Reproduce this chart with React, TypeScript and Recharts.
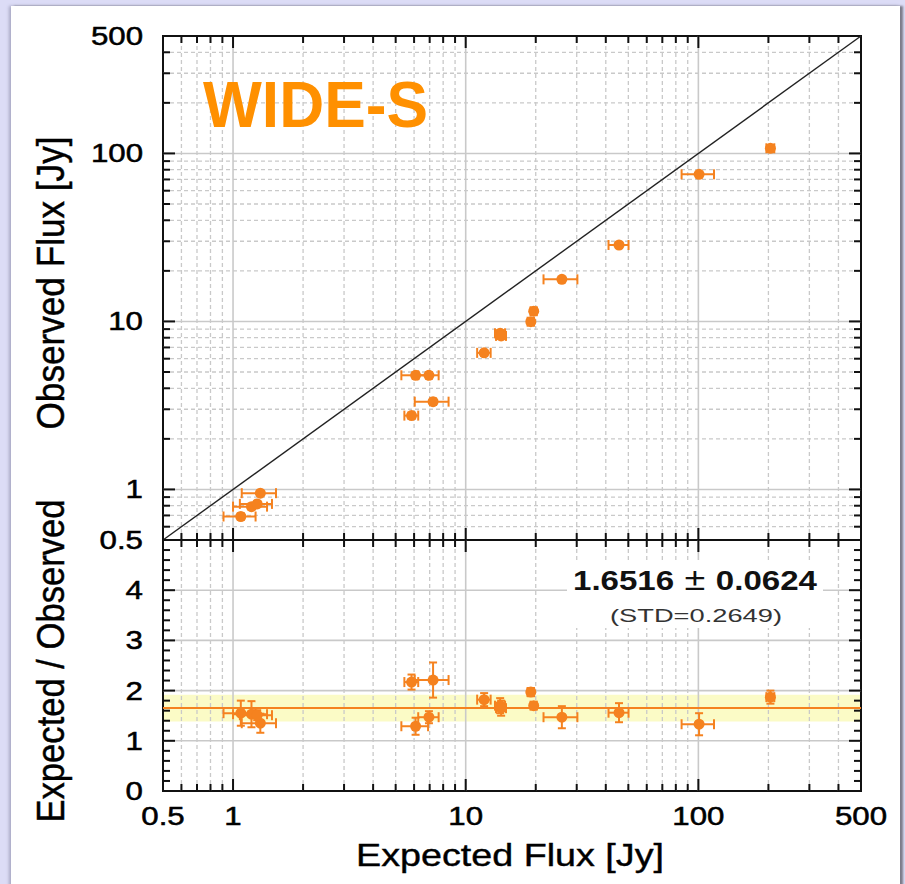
import React from 'react';
import { ScatterChart, Scatter, XAxis, YAxis, ErrorBar, ReferenceLine, ReferenceArea } from 'recharts';

// expected (x) vs observed (y) fluxes
const expected = [100.7, 204, 45.6, 25.9, 19.6, 19.05, 14.06, 14.2, 12.0, 6.09, 6.95, 7.24, 5.85, 1.31, 1.2, 1.27, 1.08];
const expectedErr = [16, 8, 4.5, 4.3, 0.6, 0.6, 0.7, 0.7, 0.8, 0.8, 0.7, 1.2, 0.4, 0.22, 0.2, 0.2, 0.17];
const observed = [75.1, 107.3, 28.5, 17.8, 11.5, 9.96, 8.5, 8.2, 6.5, 4.78, 4.78, 3.33, 2.75, 0.95, 0.79, 0.82, 0.69];
const observedErr = [2.5, 5, 1.0, 0.6, 0.5, 0.4, 0.35, 0.35, 0.25, 0.2, 0.2, 0.15, 0.12, 0.03, 0.03, 0.03, 0.03];
// expected / observed
const ratio = [1.33, 1.87, 1.56, 1.47, 1.7, 1.97, 1.7, 1.65, 1.82, 1.29, 1.47, 2.21, 2.17, 1.35, 1.53, 1.51, 1.55];
const ratioErr = [0.22, 0.13, 0.19, 0.22, 0.06, 0.08, 0.15, 0.15, 0.13, 0.17, 0.12, 0.35, 0.15, 0.19, 0.26, 0.1, 0.25];

const meanRatio = 1.6516;
const meanErr = 0.0624;
const stdRatio = 0.2649;

const logTicks = [0.5, 0.6, 0.7, 0.8, 0.9, 1, 2, 3, 4, 5, 6, 7, 8, 9, 10, 20, 30, 40, 50, 60, 70, 80, 90, 100, 200, 300, 400, 500];
const logMajors = [1, 10, 100];
const logLabels = [0.5, 1, 10, 100, 500];
const ratioTicks = [0, 0.2, 0.4, 0.6, 0.8, 1, 1.2, 1.4, 1.6, 1.8, 2, 2.2, 2.4, 2.6, 2.8, 3, 3.2, 3.4, 3.6, 3.8, 4, 4.2, 4.4, 4.6, 4.8, 5];
const ratioLabels = [0, 1, 2, 3, 4];
const ratioGrid = [1, 2, 3, 4];

const points = expected.map((e, i) => ({
  x: e, y: observed[i], xErr: expectedErr[i], yErr: observedErr[i], r: ratio[i], rErr: ratioErr[i],
}));

const W = 905, H = 884;
const TOP = 36, SPLIT = 540, BOTTOM = 791, LEFT = 163, RIGHT = 861;
const MAJOR = 12, MINOR = 7;
const FONT = '"Liberation Sans", Arial, sans-serif';
const ORANGE = '#f5821f';
const GRID = '#c9c9c9';
const INK = '#111';

const TickText = ({ x, y, anchor, children }: any) => (
  <g transform={`translate(${x},${y}) scale(1.25,1)`}>
    <text textAnchor={anchor} fontSize={25} fontFamily={FONT} fill="#000" stroke="#000" strokeWidth={0.5}>{children}</text>
  </g>
);

const makeXTick = (edgeTop: number, edgeBottom: number, showLabel: boolean) => (props: any) => {
  const { x, payload } = props;
  const v = payload.value;
  const len = logMajors.includes(v) ? MAJOR : MINOR;
  const edge = v === 0.5 || v === 500;
  return (
    <g>
      {!edge && <line x1={x} x2={x} y1={edgeBottom} y2={edgeBottom - len} stroke={INK} strokeWidth={2} />}
      {!edge && <line x1={x} x2={x} y1={edgeTop} y2={edgeTop + len} stroke={INK} strokeWidth={2} />}
      {showLabel && logLabels.includes(v) && <TickText x={x} y={825} anchor="middle">{String(v)}</TickText>}
    </g>
  );
};

const makeYTick = (majors: number[], labels: number[], hideEdges: number[]) => (props: any) => {
  const { y, payload } = props;
  const v = payload.value;
  const len = majors.includes(v) ? MAJOR : MINOR;
  const edge = hideEdges.includes(v);
  return (
    <g>
      {!edge && <line x1={LEFT} x2={LEFT + len} y1={y} y2={y} stroke={INK} strokeWidth={2} />}
      {!edge && <line x1={RIGHT} x2={RIGHT - len} y1={y} y2={y} stroke={INK} strokeWidth={2} />}
      {labels.includes(v) && <TickText x={143} y={y + 9} anchor="end">{String(v)}</TickText>}
    </g>
  );
};

const Dot = (props: any) => <circle cx={props.cx} cy={props.cy} r={5.5} fill={ORANGE} />;

const minorLog = logTicks.filter((v) => !logMajors.includes(v) && v !== 0.5 && v !== 500);

export default function App() {
  return (
    <div style={{ position: 'absolute', left: 0, top: 0, width: W, height: H, background: '#dcdcf6', overflow: 'hidden' }}>
      <div style={{ position: 'absolute', left: 11, top: 6, width: 889, height: 900, background: '#fff', boxShadow: '3px 0 2px #7c7c8a, -2px 0 3px #a9a9c4' }} />

      <div style={{ position: 'absolute', left: 0, top: 0 }}>
        <ScatterChart width={W} height={560} margin={{ top: TOP, right: W - RIGHT, bottom: 560 - SPLIT - 1, left: LEFT - 1 }}>
          <XAxis type="number" dataKey="x" scale="log" domain={[0.5, 500]} allowDataOverflow ticks={logTicks} interval={0}
            height={1} tickSize={0} tickMargin={0} axisLine={false} tickLine={false} tick={makeXTick(TOP, SPLIT, false)} />
          <YAxis type="number" dataKey="y" scale="log" domain={[0.5, 500]} allowDataOverflow ticks={logTicks} interval={0}
            width={1} tickSize={0} tickMargin={0} axisLine={false} tickLine={false} tick={makeYTick(logMajors, logLabels, [500])} />
          {minorLog.map((v) => <ReferenceLine key={`vx${v}`} x={v} stroke={GRID} strokeDasharray="4 3" strokeWidth={1.3} />)}
          {minorLog.map((v) => <ReferenceLine key={`hy${v}`} y={v} stroke={GRID} strokeDasharray="4 3" strokeWidth={1.3} />)}
          {logMajors.map((v) => <ReferenceLine key={`mx${v}`} x={v} stroke={GRID} strokeWidth={1.6} />)}
          {logMajors.map((v) => <ReferenceLine key={`my${v}`} y={v} stroke={GRID} strokeWidth={1.6} />)}
          <ReferenceLine segment={[{ x: 0.5, y: 0.5 }, { x: 500, y: 500 }]} stroke="#222" strokeWidth={1.4} />
          <Scatter data={points} shape={Dot} isAnimationActive={false}>
            <ErrorBar dataKey="xErr" direction="x" width={5} stroke={ORANGE} strokeWidth={2} isAnimationActive={false} />
            <ErrorBar dataKey="yErr" direction="y" width={4} stroke={ORANGE} strokeWidth={2} isAnimationActive={false} />
          </Scatter>
          <ReferenceArea x1={0.5} x2={500} y1={0.5} y2={500} fill="none" stroke={INK} strokeWidth={2} />
        </ScatterChart>
      </div>

      <div style={{ position: 'absolute', left: 0, top: 0 }}>
        <ScatterChart width={W} height={H} margin={{ top: SPLIT, right: W - RIGHT, bottom: H - BOTTOM - 1, left: LEFT - 1 }}>
          <XAxis type="number" dataKey="x" scale="log" domain={[0.5, 500]} allowDataOverflow ticks={logTicks} interval={0}
            height={1} tickSize={0} tickMargin={0} axisLine={false} tickLine={false} tick={makeXTick(SPLIT, BOTTOM, true)} />
          <YAxis type="number" dataKey="r" domain={[0, 5]} allowDataOverflow ticks={ratioTicks} interval={0}
            width={1} tickSize={0} tickMargin={0} axisLine={false} tickLine={false} tick={makeYTick([0, 1, 2, 3, 4, 5], ratioLabels, [0, 5])} />
          {minorLog.map((v) => <ReferenceLine key={`bx${v}`} x={v} stroke={GRID} strokeDasharray="4 3" strokeWidth={1.3} />)}
          {logMajors.map((v) => <ReferenceLine key={`bm${v}`} x={v} stroke={GRID} strokeWidth={1.6} />)}
          {ratioGrid.map((v) => <ReferenceLine key={`by${v}`} y={v} stroke={GRID} strokeWidth={1.6} />)}
          <ReferenceArea x1={0.5} x2={500} y1={meanRatio - stdRatio} y2={meanRatio + stdRatio} fill="#fbfbc6" fillOpacity={1} stroke="none" />
          <ReferenceLine y={meanRatio} stroke={ORANGE} strokeWidth={2} />
          <Scatter data={points} dataKey="r" shape={Dot} isAnimationActive={false}>
            <ErrorBar dataKey="xErr" direction="x" width={5} stroke={ORANGE} strokeWidth={2} isAnimationActive={false} />
            <ErrorBar dataKey="rErr" direction="y" width={4} stroke={ORANGE} strokeWidth={2} isAnimationActive={false} />
          </Scatter>
          <ReferenceArea x1={0.5} x2={500} y1={0} y2={5} fill="none" stroke={INK} strokeWidth={2} />
        </ScatterChart>
      </div>

      <svg width={W} height={H} style={{ position: 'absolute', left: 0, top: 0, pointerEvents: 'none' }}>
        <text x={203} y={127} fontSize={64} fontWeight="bold" fontFamily={FONT} fill="#ff9000"
          textLength={225} lengthAdjust="spacingAndGlyphs">WIDE-S</text>
        <rect x={567} y={560} width={256} height={68} fill="#fff" />
        <text x={695} y={590} textAnchor="middle" fontSize={28} fontWeight="bold" fontFamily={FONT} fill="#111"
          textLength={244} lengthAdjust="spacingAndGlyphs">
          {String(meanRatio)}<tspan fontWeight="normal" fontSize={32}> ± </tspan>{String(meanErr)}
        </text>
        <text x={696} y={622} textAnchor="middle" fontSize={19} fontFamily={FONT} fill="#333"
          textLength={172} lengthAdjust="spacingAndGlyphs">{`(STD=${stdRatio})`}</text>
        <text x={510} y={866} textAnchor="middle" fontSize={32} fontFamily={FONT} fill="#000" stroke="#000" strokeWidth={0.4}
          textLength={308} lengthAdjust="spacingAndGlyphs">Expected Flux [Jy]</text>
        <g transform="translate(63.5,283) scale(1.16,1) rotate(-90)">
          <text x={0} y={0} textAnchor="middle" fontSize={34} fontFamily={FONT} fill="#000" stroke="#000" strokeWidth={0.4}
            textLength={293} lengthAdjust="spacingAndGlyphs">Observed Flux [Jy]</text>
        </g>
        <g transform="translate(63.5,661) scale(1.16,1) rotate(-90)">
          <text x={0} y={0} textAnchor="middle" fontSize={34} fontFamily={FONT} fill="#000" stroke="#000" strokeWidth={0.4}
            textLength={323} lengthAdjust="spacingAndGlyphs">Expected / Observed</text>
        </g>
      </svg>
    </div>
  );
}
